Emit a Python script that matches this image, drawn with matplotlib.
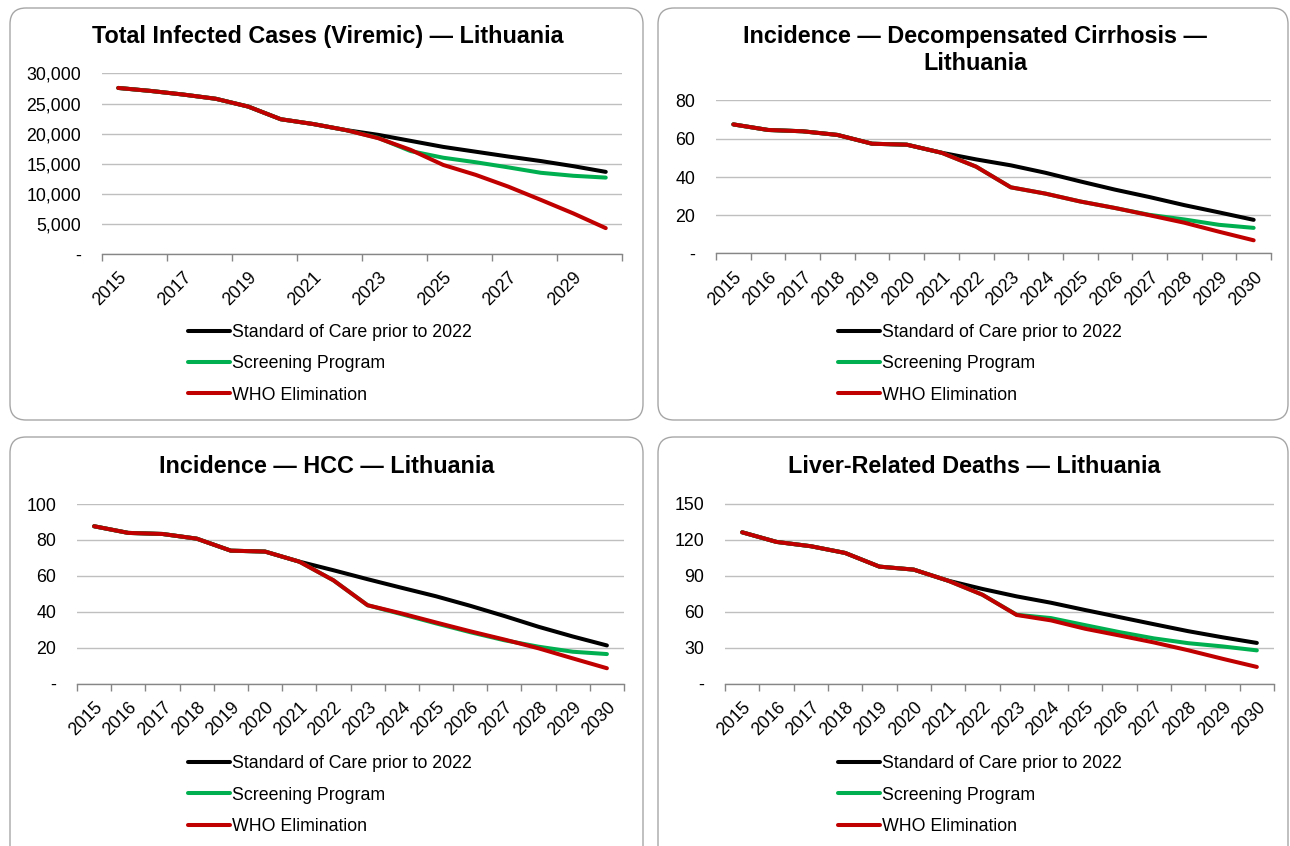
import matplotlib
matplotlib.use("Agg")
import matplotlib.pyplot as plt
from matplotlib.patches import FancyBboxPatch
from matplotlib.ticker import FuncFormatter
import numpy as np

plt.rcParams['font.family'] = ['Liberation Sans', 'DejaVu Sans']

years = list(range(2015, 2031))
series_names = ["Standard of Care prior to 2022", "Screening Program", "WHO Elimination"]
colors = ["#000000", "#00B050", "#C00000"]

# Panel 1: Total infected cases (viremic)
viremic_soc = [27600, 27100, 26500, 25800, 24500, 22400, 21600, 20600, 19800, 18800, 17800, 17000, 16200, 15450, 14600, 13650]
viremic_scr = [27600, 27100, 26500, 25800, 24500, 22400, 21600, 20600, 19300, 17100, 16000, 15250, 14400, 13500, 13000, 12700]
viremic_who = [27600, 27100, 26500, 25800, 24500, 22400, 21600, 20600, 19250, 17300, 14800, 13150, 11200, 9000, 6750, 4300]

# Panel 2: Incidence decompensated cirrhosis
dc_soc = [67.5, 64.6, 63.9, 62.0, 57.4, 56.9, 52.7, 49.2, 46.1, 42.2, 37.7, 33.4, 29.5, 25.3, 21.5, 17.6]
dc_scr = [67.5, 64.6, 63.9, 62.0, 57.4, 56.9, 52.7, 45.4, 34.6, 31.3, 27.2, 23.8, 20.2, 17.8, 15.0, 13.4]
dc_who = [67.5, 64.6, 63.9, 62.0, 57.4, 56.9, 52.7, 45.4, 34.6, 31.3, 27.2, 23.8, 20.0, 16.1, 11.4, 6.9]

# Panel 3: Incidence HCC
hcc_soc = [87.6, 83.9, 83.3, 80.7, 74.0, 73.5, 67.9, 63.1, 58.1, 53.3, 48.6, 43.3, 37.6, 31.6, 26.2, 21.2]
hcc_scr = [87.6, 83.9, 83.3, 80.7, 74.0, 73.5, 67.9, 57.5, 43.6, 38.6, 33.5, 28.6, 24.1, 20.5, 17.7, 16.4]
hcc_who = [87.6, 83.9, 83.3, 80.7, 74.0, 73.5, 67.9, 57.5, 43.6, 39.0, 34.0, 29.1, 24.5, 19.6, 14.0, 8.5]

# Panel 4: Liver-related deaths
lrd_soc = [126.0, 118.0, 114.4, 108.8, 97.4, 94.9, 85.7, 78.8, 72.6, 67.3, 61.2, 55.3, 49.4, 43.6, 38.5, 33.8]
lrd_scr = [126.0, 118.0, 114.4, 108.8, 97.4, 94.9, 85.7, 74.0, 57.3, 54.5, 48.6, 42.8, 37.6, 33.6, 30.9, 27.6]
lrd_who = [126.0, 118.0, 114.4, 108.8, 97.4, 94.9, 85.7, 74.0, 57.1, 52.6, 45.6, 40.0, 34.2, 27.7, 20.6, 13.8]

titles = ["Total Infected Cases (Viremic) \u2014 Lithuania",
          "Incidence \u2014 Decompensated Cirrhosis \u2014\nLithuania",
          "Incidence \u2014 HCC \u2014 Lithuania",
          "Liver-Related Deaths \u2014 Lithuania"]
ymaxes = [30000, 80, 100, 150]
ysteps = [5000, 20, 20, 30]
label_every = [2, 1, 1, 1]
data = [(viremic_soc, viremic_scr, viremic_who),
        (dc_soc, dc_scr, dc_who),
        (hcc_soc, hcc_scr, hcc_who),
        (lrd_soc, lrd_scr, lrd_who)]

W, H = 1290, 846
fig = plt.figure(figsize=(W / 100, H / 100), dpi=100)

# background axes in pixel coordinates for rounded panel borders
bg = fig.add_axes([0, 0, 1, 1], zorder=-1)
bg.set_xlim(0, W)
bg.set_ylim(H, 0)
bg.axis('off')
boxes = [(10, 8, 633, 412), (658, 8, 630, 412), (10, 437, 633, 430), (658, 437, 630, 430)]
for (x, y, w, h) in boxes:
    bg.add_patch(FancyBboxPatch((x, y), w, h, boxstyle="round,pad=0,rounding_size=16",
                                linewidth=1.0, edgecolor="#A6A6A6", facecolor="white"))

# plot-area pixel rectangles: left, right, top(max gridline), bottom(zero)
areas = [(102, 622, 73.5, 254), (716, 1271, 100.5, 253.5), (77, 624, 504, 683.5), (725, 1274, 503.5, 683.5)]
title_pos = [(328, 36), (975, 50), (327, 466), (974, 466)]
legend_pos = [(188, 364), (838, 364), (188, 795), (838, 795)]

FS = 12.8
for i in range(4):
    l, r, t, b = areas[i]
    ax = fig.add_axes([l / W, (H - b) / H, (r - l) / W, (b - t) / H])
    x = np.arange(len(years))
    lines = []
    for s, c, name in zip(data[i], colors, series_names):
        ln, = ax.plot(x, s, color=c, lw=2.9, solid_capstyle='round', label=name, zorder=3)
        lines.append(ln)
    ax.set_xlim(-0.5, len(years) - 0.5)
    ax.set_ylim(0, ymaxes[i])
    yt = np.arange(0, ymaxes[i] + 1, ysteps[i])
    ax.set_yticks(yt)
    if i == 0:
        ax.yaxis.set_major_formatter(FuncFormatter(lambda v, p: "-" if v == 0 else f"{int(v):,}"))
    else:
        ax.yaxis.set_major_formatter(FuncFormatter(lambda v, p: "-" if v == 0 else f"{int(v)}"))
    ax.grid(axis='y', color="#BFBFBF", lw=1.0, zorder=0)
    ax.set_axisbelow(True)
    for sp in ['left', 'right', 'top']:
        ax.spines[sp].set_visible(False)
    ax.spines['bottom'].set_color("#868686")
    ax.spines['bottom'].set_linewidth(1.0)
    ax.tick_params(axis='y', length=0, pad=15, labelsize=FS)
    # category ticks between categories
    step = label_every[i]
    ax.set_xticks(np.arange(-0.5, len(years), step))
    ax.set_xticklabels([])
    ax.tick_params(axis='x', which='major', length=5, color="#868686", width=1.0)
    ax.set_xticks(np.arange(0, len(years), step), minor=True)
    ax.set_xticklabels([str(yv) for yv in years[::step]], minor=True,
                       rotation=45, ha='right', va='top', rotation_mode='anchor', fontsize=FS)
    ax.tick_params(axis='x', which='minor', length=0, pad=11)
    ax.patch.set_alpha(0)

    tx, ty = title_pos[i]
    fig.text(tx / W, (H - ty) / H, titles[i], ha='center', va='center', fontsize=16.8,
             fontweight='bold', linespacing=1.2)

    lx, ly = legend_pos[i]
    ax.legend(handles=lines, loc='center left', bbox_to_anchor=(lx / W, (H - ly) / H),
              bbox_transform=fig.transFigure, frameon=False, fontsize=FS,
              handlelength=2.35, handletextpad=0.1, labelspacing=0.8,
              borderpad=0, borderaxespad=0)

fig.savefig("out.png", dpi=100)
